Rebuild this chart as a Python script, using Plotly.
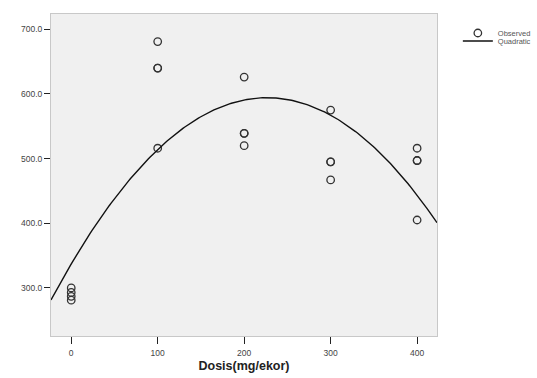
import numpy as np
import plotly.graph_objects as go

# Observed data (Dosis mg/ekor vs response); repeated values overlap in the picture
dosis = [0, 0, 0, 0,
         100, 100, 100, 100,
         200, 200, 200, 200,
         300, 300, 300, 300,
         400, 400, 400, 400]
respon = [300, 293, 287, 281,
          681, 640, 640, 516,
          626, 539, 539, 520,
          575, 495, 495, 467,
          516, 497, 497, 405]

x_ticks = [0, 100, 200, 300, 400]
y_ticks = [300, 400, 500, 600, 700]
x_range = [-23.4, 423]
y_range = [225.6, 723.6]

# Quadratic fit computed from the observations
coef = np.polyfit(dosis, respon, 2)
xs = np.linspace(x_range[0], x_range[1], 200)
ys = np.polyval(coef, xs)

fig = go.Figure()
fig.add_trace(go.Scatter(
    x=dosis, y=respon, mode="markers", name="Observed",
    marker=dict(symbol="circle-open", size=7.5, color="#333333",
                line=dict(width=1.3, color="#333333")),
    legend="legend",
))
fig.add_trace(go.Scatter(
    x=xs, y=ys, mode="lines", name="Quadratic",
    line=dict(color="#111111", width=1.4),
    legend="legend2",
))

legend_common = dict(
    xanchor="left", yanchor="middle",
    bgcolor="rgba(0,0,0,0)", borderwidth=0,
    font=dict(family="Liberation Sans, Arial", size=7.5, color="#555555"),
    itemwidth=30,
)

fig.update_layout(
    width=537, height=378,
    margin=dict(l=51, r=100, t=14, b=41.5, autoexpand=False),
    paper_bgcolor="white",
    plot_bgcolor="#F0F0F0",
    font=dict(family="Liberation Sans, Arial", color="#333333"),
    showlegend=True,
    legend=dict(x=1.054, y=0.941, **legend_common),
    legend2=dict(x=1.054, y=0.916, **legend_common),
    xaxis=dict(
        range=x_range, tickvals=x_ticks, ticks="outside", ticklen=7,
        tickcolor="#222222", tickwidth=1, ticklabelstandoff=2,
        showgrid=False, zeroline=False,
        showline=True, linecolor="#C8C8C8", linewidth=1, mirror=True,
        tickfont=dict(size=8.5, color="#444444"),
        title=dict(text="<b>Dosis(mg/ekor)</b>", font=dict(size=12.5, color="#222222"),
                   standoff=4),
    ),
    yaxis=dict(
        range=y_range, tickvals=y_ticks, tickformat=".1f", ticks="outside", ticklen=6,
        tickcolor="#222222", tickwidth=1,
        showgrid=False, zeroline=False,
        showline=True, linecolor="#C8C8C8", linewidth=1, mirror=True,
        tickfont=dict(size=8.5, color="#444444"),
    ),
)

fig.write_html("out.html", config={"displayModeBar": False},
               post_script="document.body.style.margin='0';")
